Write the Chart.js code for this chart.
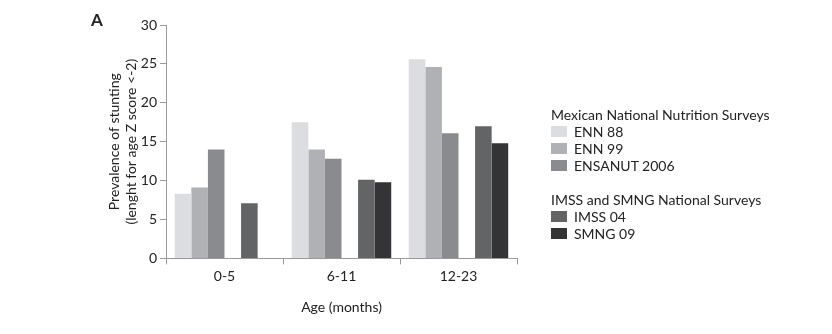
<!DOCTYPE html>
<html>
<head>
<meta charset="utf-8">
<script src="https://cdn.jsdelivr.net/npm/chart.js@4"></script>
<style>
  html, body { margin: 0; padding: 0; background: #fff; }
  body { width: 832px; height: 334px; position: relative; overflow: hidden; font-family: Lato, sans-serif; color: #222; }
  #wrap { position: absolute; left: 0; top: 0; width: 832px; height: 334px; }
  #painel { position: absolute; left: 91px; top: 9px; font: bold 17px Lato, sans-serif; }
  .leg { position: absolute; left: 551px; font-size: 14px; line-height: 17px; }
  .leg h4 { margin: 0; font-weight: normal; font-size: 14px; }
  .leg .item { display: flex; align-items: center; height: 17px; }
  .leg .cx { width: 16px; height: 11px; margin-right: 7px; }
</style>
</head>
<body>
<div id="wrap"><canvas id="grafico" width="832" height="334"></canvas></div>
<div id="painel">A</div>
<div class="leg" id="leg1" style="top:106px"></div>
<div class="leg" id="leg2" style="top:191px"></div>
<script>
  // categorias (idade em meses)
  const FAIXAS = ['0-5', '6-11', '12-23'];
  const Y_TICKS = [0, 5, 10, 15, 20, 25, 30];

  // prevalencia de baixa estatura (%)
  const ENN88 = [8.3, 17.5, 25.6];
  const ENN99 = [9.1, 14.0, 24.6];
  const ENSANUT06 = [14.0, 12.8, 16.1];
  const IMSS04 = [7.1, 10.1, 17.0];
  const SMNG09 = [null, 9.8, 14.8];

  const GRUPO1 = [
    { nome: 'ENN 88', dados: ENN88, cor: '#dcdde0' },
    { nome: 'ENN 99', dados: ENN99, cor: '#b0b1b4' },
    { nome: 'ENSANUT 2006', dados: ENSANUT06, cor: '#8a8b8e' }
  ];
  const GRUPO2 = [
    { nome: 'IMSS 04', dados: IMSS04, cor: '#636466' },
    { nome: 'SMNG 09', dados: SMNG09, cor: '#343335' }
  ];

  const serie = s => ({ label: s.nome, data: s.dados, backgroundColor: s.cor, borderWidth: 0 });
  // slot vazio entre os dois grupos de pesquisas
  const espaco = { label: '', data: FAIXAS.map(() => null), backgroundColor: 'transparent' };

  const datasets = [...GRUPO1.map(serie), espaco, ...GRUPO2.map(serie)];

  const eixoCor = '#9a9a9a';
  const fonte = { family: 'Lato, sans-serif', size: 14 };

  new Chart(document.getElementById('grafico'), {
    type: 'bar',
    data: { labels: FAIXAS, datasets },
    options: {
      responsive: false,
      animation: false,
      layout: { padding: { left: 106, top: 25, right: 315, bottom: 0 } },
      plugins: { legend: { display: false }, tooltip: { enabled: false } },
      datasets: { bar: { categoryPercentage: 0.85, barPercentage: 1 } },
      scales: {
        x: {
          grid: { display: true, drawOnChartArea: false, offset: true, color: eixoCor, tickLength: 6 },
          border: { color: eixoCor },
          ticks: { color: '#222', font: fonte, padding: 4 },
          title: { display: true, text: 'Age (months)', color: '#222', font: fonte, padding: { top: 10, bottom: 18 } }
        },
        y: {
          min: 0, max: 30,
          afterBuildTicks: s => { s.ticks = Y_TICKS.map(v => ({ value: v })); },
          afterFit: s => { s.width = 60; },
          grid: { display: true, drawOnChartArea: false, color: eixoCor, tickLength: 6 },
          border: { color: eixoCor },
          ticks: { color: '#222', font: fonte, padding: 3 },
          title: {
            display: true,
            text: ['Prevalence of stunting', '(lenght for age Z score <-2)'],
            color: '#222', font: fonte, padding: 0
          }
        }
      }
    }
  });

  function montarLegenda(id, titulo, grupo) {
    const el = document.getElementById(id);
    el.innerHTML = `<h4>${titulo}</h4>` + grupo.map(s =>
      `<div class="item"><span class="cx" style="background:${s.cor}"></span>${s.nome}</div>`
    ).join('');
  }
  montarLegenda('leg1', 'Mexican National Nutrition Surveys', GRUPO1);
  montarLegenda('leg2', 'IMSS and SMNG National Surveys', GRUPO2);
</script>
</body>
</html>
